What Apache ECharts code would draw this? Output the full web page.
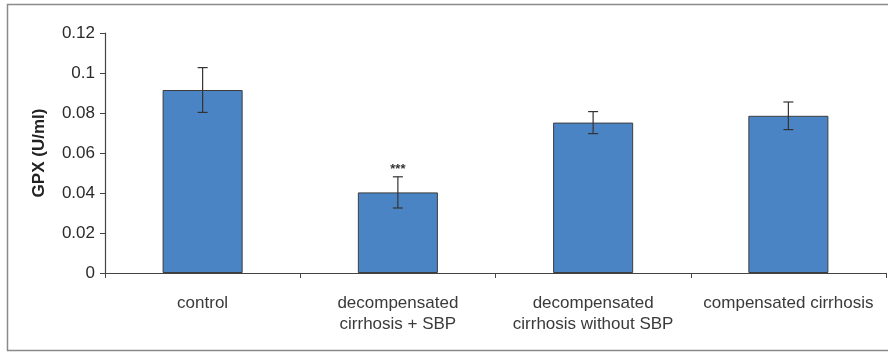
<!DOCTYPE html>
<html>
<head>
<meta charset="utf-8">
<script src="https://cdn.jsdelivr.net/npm/echarts@6/dist/echarts.min.js"></script>
<style>
  html, body { margin: 0; padding: 0; background: #fff; }
  #main { width: 888px; height: 353px; }
</style>
</head>
<body>
<div id="main"></div>
<script>
// GPX per group
const categories = [
  'control',
  'decompensated\ncirrhosis + SBP',
  'decompensated\ncirrhosis without SBP',
  'compensated cirrhosis'
];
const gpxMean = [0.0915, 0.0403, 0.0752, 0.0786];
const gpxErr = [0.0112, 0.0078, 0.0055, 0.0069];
const signif = ['', '***', '', ''];
const yTicks = [0, 0.02, 0.04, 0.06, 0.08, 0.1, 0.12];

const chart = echarts.init(document.getElementById('main'));

const errData = gpxMean.map((m, i) => [i, m - gpxErr[i], m + gpxErr[i], signif[i]]);

const options = {
  animation: false,
  textStyle: { fontFamily: 'Liberation Sans, Arial, sans-serif' },
  graphic: [
    {
      type: 'rect',
      shape: { x: 7.5, y: 4.5, width: 900, height: 346 },
      style: { fill: 'none', stroke: '#8a8a8a', lineWidth: 1.5 },
      z: -1
    }
  ],
  grid: { left: 105, right: 2, top: 33, bottom: 80, containLabel: false },
  xAxis: {
    type: 'category',
    data: categories,
    axisLine: { lineStyle: { color: '#444', width: 1.2 } },
    axisTick: { show: true, length: 5, alignWithLabel: false, lineStyle: { color: '#444' } },
    axisLabel: { color: '#3a3a3a', fontSize: 17, margin: 20, lineHeight: 21, interval: 0 }
  },
  yAxis: {
    type: 'value',
    min: 0,
    max: 0.12,
    interval: 0.02,
    name: 'GPX (U/ml)',
    nameLocation: 'middle',
    nameGap: 57,
    nameTextStyle: { fontSize: 17, fontWeight: 'bold', color: '#222' },
    splitLine: { show: false },
    axisLine: { show: true, lineStyle: { color: '#444', width: 1.2 } },
    axisTick: { show: true, length: 5, lineStyle: { color: '#444' } },
    axisLabel: {
      color: '#2a2a2a',
      fontSize: 17,
      margin: 10,
      formatter: v => {
        const t = yTicks.find(x => Math.abs(x - v) < 1e-9);
        return t === undefined ? '' : String(+t.toFixed(2));
      }
    }
  },
  series: [
    {
      type: 'bar',
      data: gpxMean,
      barWidth: '41%',
      itemStyle: { color: '#4a84c5', borderColor: '#3d3d3d', borderWidth: 1 }
    },
    {
      type: 'custom',
      data: errData,
      z: 5,
      renderItem: function (params, api) {
        const x = api.value(0);
        const lo = api.coord([x, api.value(1)]);
        const hi = api.coord([x, api.value(2)]);
        const hw = 5;
        const style = { stroke: '#333', lineWidth: 1.2 };
        const children = [
          { type: 'line', shape: { x1: hi[0], y1: hi[1], x2: lo[0], y2: lo[1] }, style },
          { type: 'line', shape: { x1: hi[0] - hw, y1: hi[1], x2: hi[0] + hw, y2: hi[1] }, style },
          { type: 'line', shape: { x1: lo[0] - hw, y1: lo[1], x2: lo[0] + hw, y2: lo[1] }, style }
        ];
        const mark = errData[params.dataIndex][3];
        if (mark) {
          children.push({
            type: 'text',
            style: {
              text: mark, x: hi[0], y: hi[1] - 1,
              align: 'center', verticalAlign: 'bottom',
              fontSize: 13, fontWeight: 'bold', fill: '#333',
              fontFamily: 'Liberation Sans, Arial, sans-serif'
            }
          });
        }
        return { type: 'group', children };
      }
    }
  ]
};
chart.setOption(options);
</script>
</body>
</html>
